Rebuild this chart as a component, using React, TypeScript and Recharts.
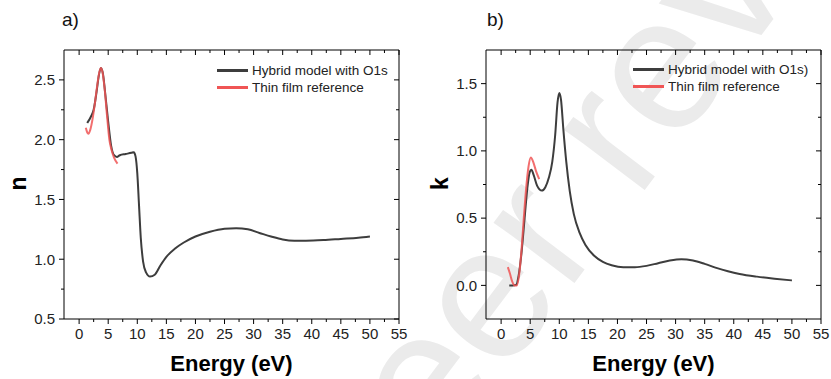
import React from 'react'
import { LineChart, Line, XAxis, YAxis, Legend } from 'recharts'

// refractive index n, hybrid model
const nModelEnergy = [1.4, 2.0, 2.5, 3.0, 3.4, 3.75, 4.1, 4.5, 5.0, 5.5, 6.0, 6.5, 7.0, 8.0, 9.0, 9.4, 9.7, 10.0, 10.3, 10.6, 11.0, 11.5, 12.2, 13.0, 14.0, 15.0, 16.5, 18.0, 20.0, 22.5, 25.0, 27.0, 29.0, 31.0, 33.0, 35.0, 37.0, 39.0, 42.0, 45.0, 48.0, 50.0]
const nModelValue = [2.14, 2.19, 2.25, 2.4, 2.54, 2.6, 2.55, 2.38, 2.15, 1.95, 1.87, 1.855, 1.87, 1.88, 1.89, 1.895, 1.86, 1.72, 1.45, 1.18, 0.98, 0.89, 0.855, 0.87, 0.95, 1.02, 1.09, 1.14, 1.19, 1.23, 1.255, 1.26, 1.25, 1.22, 1.19, 1.165, 1.155, 1.155, 1.16, 1.17, 1.18, 1.19]

// refractive index n, thin film reference
const nFilmEnergy = [1.15, 1.4, 1.6, 1.9, 2.3, 2.7, 3.1, 3.5, 3.75, 4.0, 4.4, 4.8, 5.2, 5.6, 6.0, 6.6]
const nFilmValue = [2.1, 2.06, 2.05, 2.08, 2.17, 2.3, 2.45, 2.57, 2.6, 2.57, 2.42, 2.2, 2.0, 1.91, 1.85, 1.8]

// extinction coefficient k, hybrid model
const kModelEnergy = [1.4, 2.0, 2.6, 3.0, 3.5, 4.0, 4.5, 4.9, 5.2, 5.6, 6.2, 7.0, 7.6, 8.2, 8.8, 9.3, 9.7, 10.0, 10.3, 10.7, 11.2, 11.8, 12.5, 13.5, 14.5, 16.0, 17.5, 19.0, 21.0, 23.0, 25.0, 27.0, 29.0, 31.0, 33.0, 35.0, 37.0, 39.0, 41.0, 44.0, 47.0, 50.0]
const kModelValue = [0.0, 0.0, 0.005, 0.07, 0.24, 0.48, 0.72, 0.84, 0.86, 0.82, 0.74, 0.705, 0.73, 0.8, 0.92, 1.12, 1.36, 1.43, 1.38, 1.16, 0.92, 0.7, 0.53, 0.39, 0.3, 0.22, 0.175, 0.15, 0.135, 0.135, 0.145, 0.165, 0.185, 0.195, 0.185, 0.16, 0.13, 0.105, 0.085, 0.065, 0.05, 0.037]

// extinction coefficient k, thin film reference
const kFilmEnergy = [1.15, 1.5, 1.9, 2.3, 2.7, 3.1, 3.5, 3.9, 4.3, 4.7, 5.1, 5.5, 6.0, 6.55]
const kFilmValue = [0.136, 0.09, 0.03, 0.0, 0.0, 0.08, 0.26, 0.5, 0.72, 0.88, 0.95, 0.92, 0.85, 0.79]

const xTicks = [0, 2.5, 5, 7.5, 10, 12.5, 15, 17.5, 20, 22.5, 25, 27.5, 30, 32.5, 35, 37.5, 40, 42.5, 45, 47.5, 50, 52.5, 55]
const nTicks = [0.5, 0.75, 1.0, 1.25, 1.5, 1.75, 2.0, 2.25, 2.5]
const kTicks = [0.0, 0.25, 0.5, 0.75, 1.0, 1.25, 1.5]

const zip = (xs: number[], ys: number[]) => xs.map((e, i) => ({ e, v: ys[i] }))

const FONT = '"Liberation Sans", Arial, sans-serif'
const DARK = '#3d3d3d'
const RED = '#f05555'
const X_DOMAIN: [number, number] = [-2.6, 55]

const isMajor = (v: number, step: number) => Math.abs(v / step - Math.round(v / step)) < 1e-6

const BottomTick = ({ x, y, payload }: any) => {
  const major = isMajor(payload.value, 5)
  return (
    <g>
      <line x1={x} x2={x} y1={y} y2={y + (major ? 5 : 3)} stroke="#000" />
      {major && (
        <text x={x} y={y + 9} dy="0.71em" textAnchor="middle" fontSize={15} fontFamily={FONT} fill="#222">
          {payload.value}
        </text>
      )}
    </g>
  )
}

const TopTick = ({ x, y, payload }: any) => {
  const major = isMajor(payload.value, 5)
  return <line x1={x} x2={x} y1={y} y2={y + (major ? 5 : 3)} stroke="#000" />
}

const LeftTick = ({ x, y, payload }: any) => {
  const major = isMajor(payload.value, 0.5)
  return (
    <g>
      <line x1={x} x2={x - (major ? 5 : 3)} y1={y} y2={y} stroke="#000" />
      {major && (
        <text x={x - 9} y={y} dy="0.355em" textAnchor="end" fontSize={15} fontFamily={FONT} fill="#222">
          {payload.value.toFixed(1)}
        </text>
      )}
    </g>
  )
}

const RightTick = ({ x, y, payload }: any) => {
  const major = isMajor(payload.value, 0.5)
  return <line x1={x} x2={x - (major ? 5 : 3)} y1={y} y2={y} stroke="#000" />
}

const LegendBox = ({ payload }: any) => (
  <div style={{ fontFamily: FONT, fontSize: 13.5, color: '#222', lineHeight: '17px', whiteSpace: 'nowrap' }}>
    {(payload || []).map((p: any) => (
      <div key={p.value} style={{ display: 'flex', alignItems: 'center' }}>
        <span style={{ display: 'inline-block', width: 31, height: 2.5, background: p.color, marginRight: 4 }} />
        <span>{p.value}</span>
      </div>
    ))}
  </div>
)

const xTitle = ({ viewBox }: any) => (
  <text x={viewBox.x + viewBox.width / 2} y={371} textAnchor="middle" fontSize={22} fontWeight="bold" fontFamily={FONT} fill="#000">
    Energy (eV)
  </text>
)

const yTitle = (text: string, x: number) => ({ viewBox }: any) => {
  const cy = viewBox.y + viewBox.height / 2 - 1
  return (
    <text x={x} y={cy} transform={`rotate(-90 ${x} ${cy})`} textAnchor="middle" fontSize={23} fontWeight="bold" fontFamily={FONT} fill="#000">
      {text}
    </text>
  )
}

interface PanelProps {
  model: { e: number; v: number }[]
  film: { e: number; v: number }[]
  modelName: string
  yDomain: [number, number]
  yTicks: number[]
  yLabel: string
  yAxisWidth: number
  width: number
  rightMargin: number
  yTitleX: number
  legendLeft: number
  legendTop: number
}

const Panel = (p: PanelProps) => (
  <LineChart width={p.width} height={379} margin={{ top: 49, right: p.rightMargin, bottom: 0, left: 0 }}>
    <XAxis
      dataKey="e"
      type="number"
      domain={X_DOMAIN}
      ticks={xTicks}
      interval={0}
      allowDataOverflow
      height={60}
      tickSize={0}
      tickMargin={0}
      tickLine={false}
      tick={<BottomTick />}
      axisLine={{ stroke: '#000' }}
      label={{ content: xTitle }}
    />
    <XAxis
      xAxisId="top"
      orientation="top"
      dataKey="e"
      type="number"
      domain={X_DOMAIN}
      ticks={xTicks}
      interval={0}
      allowDataOverflow
      height={1}
      tickSize={0}
      tickMargin={0}
      tickLine={false}
      tick={<TopTick />}
      axisLine={{ stroke: '#000' }}
    />
    <YAxis
      type="number"
      domain={p.yDomain}
      ticks={p.yTicks}
      interval={0}
      allowDataOverflow
      width={p.yAxisWidth}
      tickSize={0}
      tickMargin={0}
      tickLine={false}
      tick={<LeftTick />}
      axisLine={{ stroke: '#000' }}
      label={{ content: yTitle(p.yLabel, p.yTitleX) }}
    />
    <YAxis
      yAxisId="r"
      orientation="right"
      type="number"
      domain={p.yDomain}
      ticks={p.yTicks}
      interval={0}
      allowDataOverflow
      width={1}
      tickSize={0}
      tickMargin={0}
      tickLine={false}
      tick={<RightTick />}
      axisLine={{ stroke: '#000' }}
    />
    <Legend
      layout="vertical"
      align="center"
      verticalAlign="middle"
      content={<LegendBox />}
      wrapperStyle={{ left: p.legendLeft, top: p.legendTop, width: 'auto', height: 'auto' }}
    />
    <Line data={p.model} dataKey="v" name={p.modelName} type="monotone" stroke={DARK} strokeWidth={2} dot={false} isAnimationActive={false} />
    <Line data={p.film} dataKey="v" name="Thin film reference" type="monotone" stroke={RED} strokeOpacity={0.85} strokeWidth={2} dot={false} isAnimationActive={false} />
  </LineChart>
)

const panelTag: React.CSSProperties = { position: 'absolute', top: 9, fontFamily: FONT, fontSize: 19, color: '#111' }

export default function App() {
  return (
    <div style={{ position: 'absolute', left: 0, top: 0, width: 831, height: 379, background: '#fff', overflow: 'hidden' }}>
      {/* watermark behind both panels */}
      <svg width={831} height={379} style={{ position: 'absolute', left: 0, top: 0 }}>
        <text x={362} y={565} transform="rotate(-53 362 565)" fontSize={191} fontFamily={FONT} fill="#ebebeb">
          Peer review
        </text>
      </svg>
      <div style={{ ...panelTag, left: 62 }}>a)</div>
      <div style={{ ...panelTag, left: 487 }}>b)</div>
      <div style={{ position: 'absolute', left: 0, top: 0 }}>
        <Panel
          model={zip(nModelEnergy, nModelValue)}
          film={zip(nFilmEnergy, nFilmValue)}
          modelName="Hybrid model with O1s"
          yDomain={[0.5, 2.75]}
          yTicks={nTicks}
          yLabel="n"
          yAxisWidth={64}
          width={415}
          rightMargin={15}
          yTitleX={26}
          legendLeft={217}
          legendTop={62}
        />
      </div>
      <div style={{ position: 'absolute', left: 415, top: 0 }}>
        <Panel
          model={zip(kModelEnergy, kModelValue)}
          film={zip(kFilmEnergy, kFilmValue)}
          modelName="Hybrid model with O1s)"
          yDomain={[-0.25, 1.75]}
          yTicks={kTicks}
          yLabel="k"
          yAxisWidth={71}
          width={416}
          rightMargin={9}
          yTitleX={33}
          legendLeft={218}
          legendTop={61}
        />
      </div>
    </div>
  )
}
